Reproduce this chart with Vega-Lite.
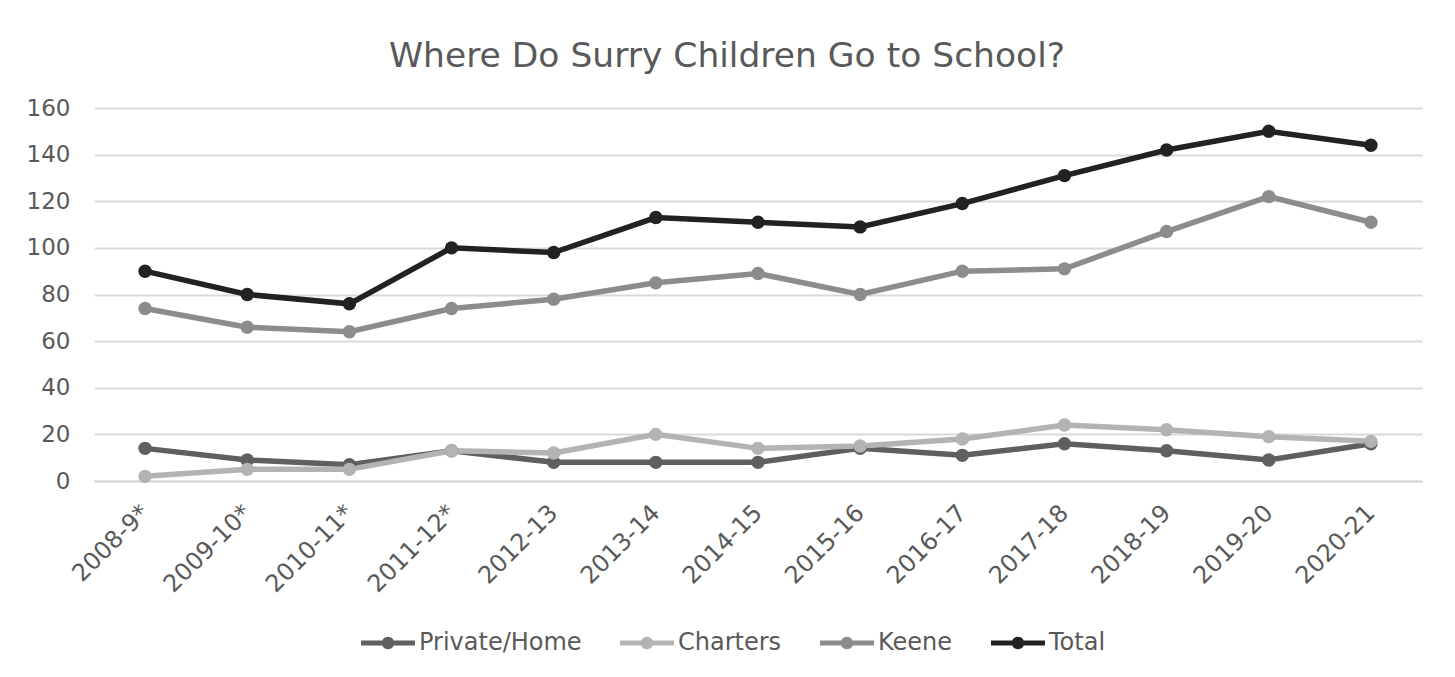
{
  "$schema": "https://vega.github.io/schema/vega-lite/v6.json",
  "autosize": "none",
  "width": 1328,
  "height": 373,
  "padding": {"left": 94, "top": 108, "right": 33, "bottom": 196},
  "background": "white",
  "title": {
    "text": "Where Do Surry Children Go to School?",
    "font": "DejaVu Sans",
    "fontSize": 34.5,
    "fontWeight": "normal",
    "color": "#595959",
    "anchor": "middle",
    "frame": "group",
    "dx": -31,
    "baseline": "alphabetic",
    "offset": -4
  },
  "data": {
    "values": [
      {"year": "2008-9*", "series": "Private/Home", "value": 14},
      {"year": "2009-10*", "series": "Private/Home", "value": 9},
      {"year": "2010-11*", "series": "Private/Home", "value": 7},
      {"year": "2011-12*", "series": "Private/Home", "value": 13},
      {"year": "2012-13", "series": "Private/Home", "value": 8},
      {"year": "2013-14", "series": "Private/Home", "value": 8},
      {"year": "2014-15", "series": "Private/Home", "value": 8},
      {"year": "2015-16", "series": "Private/Home", "value": 14},
      {"year": "2016-17", "series": "Private/Home", "value": 11},
      {"year": "2017-18", "series": "Private/Home", "value": 16},
      {"year": "2018-19", "series": "Private/Home", "value": 13},
      {"year": "2019-20", "series": "Private/Home", "value": 9},
      {"year": "2020-21", "series": "Private/Home", "value": 16},
      {"year": "2008-9*", "series": "Charters", "value": 2},
      {"year": "2009-10*", "series": "Charters", "value": 5},
      {"year": "2010-11*", "series": "Charters", "value": 5},
      {"year": "2011-12*", "series": "Charters", "value": 13},
      {"year": "2012-13", "series": "Charters", "value": 12},
      {"year": "2013-14", "series": "Charters", "value": 20},
      {"year": "2014-15", "series": "Charters", "value": 14},
      {"year": "2015-16", "series": "Charters", "value": 15},
      {"year": "2016-17", "series": "Charters", "value": 18},
      {"year": "2017-18", "series": "Charters", "value": 24},
      {"year": "2018-19", "series": "Charters", "value": 22},
      {"year": "2019-20", "series": "Charters", "value": 19},
      {"year": "2020-21", "series": "Charters", "value": 17},
      {"year": "2008-9*", "series": "Keene", "value": 74},
      {"year": "2009-10*", "series": "Keene", "value": 66},
      {"year": "2010-11*", "series": "Keene", "value": 64},
      {"year": "2011-12*", "series": "Keene", "value": 74},
      {"year": "2012-13", "series": "Keene", "value": 78},
      {"year": "2013-14", "series": "Keene", "value": 85},
      {"year": "2014-15", "series": "Keene", "value": 89},
      {"year": "2015-16", "series": "Keene", "value": 80},
      {"year": "2016-17", "series": "Keene", "value": 90},
      {"year": "2017-18", "series": "Keene", "value": 91},
      {"year": "2018-19", "series": "Keene", "value": 107},
      {"year": "2019-20", "series": "Keene", "value": 122},
      {"year": "2020-21", "series": "Keene", "value": 111},
      {"year": "2008-9*", "series": "Total", "value": 90},
      {"year": "2009-10*", "series": "Total", "value": 80},
      {"year": "2010-11*", "series": "Total", "value": 76},
      {"year": "2011-12*", "series": "Total", "value": 100},
      {"year": "2012-13", "series": "Total", "value": 98},
      {"year": "2013-14", "series": "Total", "value": 113},
      {"year": "2014-15", "series": "Total", "value": 111},
      {"year": "2015-16", "series": "Total", "value": 109},
      {"year": "2016-17", "series": "Total", "value": 119},
      {"year": "2017-18", "series": "Total", "value": 131},
      {"year": "2018-19", "series": "Total", "value": 142},
      {"year": "2019-20", "series": "Total", "value": 150},
      {"year": "2020-21", "series": "Total", "value": 144}
    ]
  },
  "encoding": {
    "x": {
      "field": "year",
      "type": "nominal",
      "sort": null,
      "scale": {"type": "point", "padding": 0.5},
      "axis": {
        "title": null,
        "labelAngle": -45,
        "labelAlign": "right",
        "labelBaseline": "middle",
        "labelPadding": 28,
        "labelFont": "DejaVu Sans",
        "labelFontSize": 24,
        "labelColor": "#595959",
        "ticks": false,
        "domain": true,
        "domainColor": "#d9d9d9",
        "domainWidth": 2,
        "grid": false
      }
    },
    "y": {
      "field": "value",
      "type": "quantitative",
      "scale": {"domain": [0, 160], "nice": false},
      "axis": {
        "title": null,
        "values": [0, 20, 40, 60, 80, 100, 120, 140, 160],
        "labelFont": "DejaVu Sans",
        "labelFontSize": 23,
        "labelColor": "#595959",
        "labelPadding": 24,
        "ticks": false,
        "domain": false,
        "grid": true,
        "gridColor": "#d9d9d9",
        "gridWidth": 2
      }
    },
    "color": {
      "field": "series",
      "type": "nominal",
      "scale": {
        "domain": ["Private/Home", "Charters", "Keene", "Total"],
        "range": ["#5f5f5f", "#b3b3b3", "#8c8c8c", "#222222"]
      },
      "legend": {
        "title": null,
        "orient": "none",
        "legendX": 267,
        "legendY": 508,
        "direction": "horizontal",
        "labelFont": "DejaVu Sans",
        "labelFontSize": 24,
        "labelColor": "#595959",
        "labelOffset": 4,
        "labelLimit": 400,
        "columnPadding": 38,
        "symbolType": "M-1,-0.09H1V0.09H-1Z M0.23,0A0.23,0.23 0 1,1 -0.23,0A0.23,0.23 0 1,1 0.23,0Z",
        "symbolSize": 2916,
        "symbolStrokeWidth": 0,
        "symbolOpacity": 1,
        "encode": {
          "symbols": {
            "update": {
              "fill": {"scale": "color", "field": "value"},
              "stroke": {"value": "transparent"},
              "opacity": {"value": 1}
            }
          }
        }
      }
    }
  },
  "layer": [
    {"mark": {"type": "line", "strokeWidth": 5.5}},
    {"mark": {"type": "point", "filled": true, "size": 180, "opacity": 1}}
  ],
  "config": {"view": {"stroke": null}}
}
